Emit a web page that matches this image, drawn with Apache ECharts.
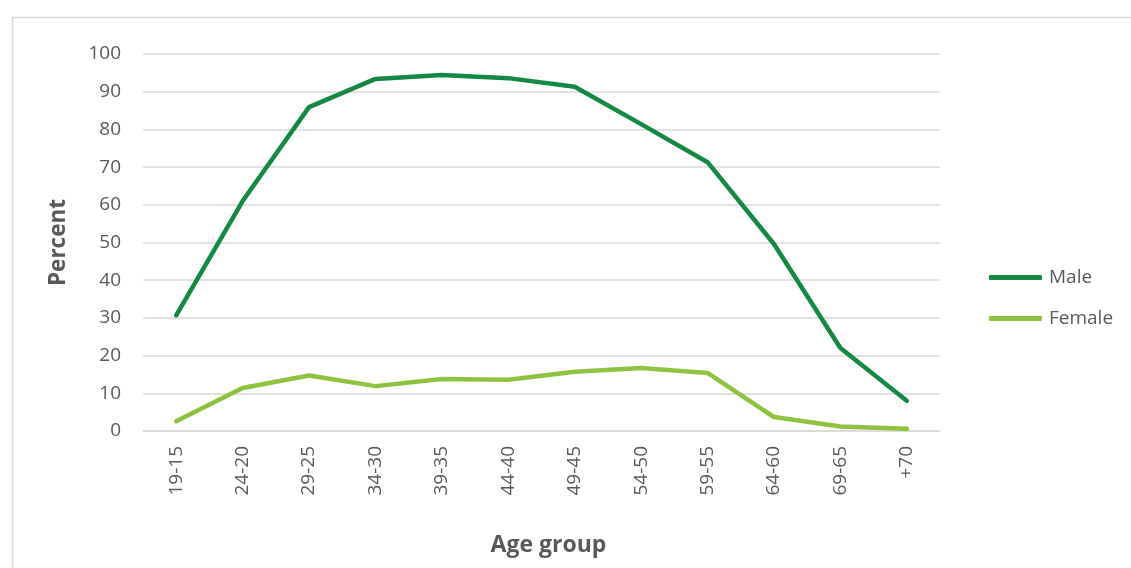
<!DOCTYPE html>
<html><head><meta charset="utf-8">
<script src="https://cdn.jsdelivr.net/npm/echarts@6/dist/echarts.min.js"></script>
<style>html,body{margin:0;padding:0;background:#fff}#c{width:1131px;height:568px}</style>
</head><body><div id="c"></div>
<script>
const categories = ["19-15","24-20","29-25","34-30","39-35","44-40","49-45","54-50","59-55","64-60","69-65","+70"];
const male = [30.7, 61, 85.9, 93.4, 94.4, 93.6, 91.3, 81.4, 71.3, 49.6, 22, 8];
const female = [2.6, 11.4, 14.7, 11.9, 13.8, 13.6, 15.7, 16.7, 15.4, 3.7, 1.2, 0.6];
const yTicks = {min: 0, max: 100, interval: 10};
const font = '"Open Sans", "Noto Sans", sans-serif';
const chart = echarts.init(document.getElementById('c'), null, {renderer: 'canvas'});
chart.setOption({
  animation: false,
  backgroundColor: '#fff',
  textStyle: {fontFamily: font},
  graphic: [{type: 'rect', left: 10, top: 15, shape: {width: 1140, height: 570}, style: {fill: 'none', stroke: '#d9d9d9', lineWidth: 1.5}, silent: true}],
  grid: {left: 143, right: 191, top: 54, bottom: 137, containLabel: false},
  legend: {
    orient: 'vertical', left: 984, top: 261, itemWidth: 53, itemHeight: 5, itemGap: 18,
    icon: 'roundRect',
    textStyle: {color: '#595959', fontSize: 19, lineHeight: 23, fontFamily: font, padding: [0, 0, 0, 2]},
    data: ['Male', 'Female']
  },
  xAxis: {
    type: 'category', data: categories, boundaryGap: true,
    name: 'Age group', nameLocation: 'middle', nameGap: 103,
    nameTextStyle: {color: '#595959', fontSize: 23, fontWeight: 'bold', fontFamily: font, padding: [0, 0, 0, 14]},
    axisLine: {lineStyle: {color: '#d9d9d9', width: 1.5}},
    axisTick: {show: false},
    axisLabel: {rotate: 90, margin: 15, color: '#595959', fontSize: 19, fontFamily: font, interval: 0}
  },
  yAxis: {
    type: 'value', min: yTicks.min, max: yTicks.max, interval: yTicks.interval,
    name: 'Percent', nameLocation: 'middle', nameGap: 73,
    nameTextStyle: {color: '#595959', fontSize: 22.5, fontWeight: 'bold', fontFamily: font},
    axisLine: {show: false}, axisTick: {show: false},
    axisLabel: {margin: 22, color: '#595959', fontSize: 19, fontFamily: font},
    splitLine: {lineStyle: {color: '#d9d9d9', width: 1.5}}
  },
  series: [
    {name: 'Male', type: 'line', data: male, symbol: 'none', lineStyle: {color: '#128A43', width: 4.5, cap: 'round', join: 'round'}, itemStyle: {color: '#128A43'}},
    {name: 'Female', type: 'line', data: female, symbol: 'none', lineStyle: {color: '#8DC33F', width: 4.5, cap: 'round', join: 'round'}, itemStyle: {color: '#8DC33F'}}
  ]
});
</script></body></html>
